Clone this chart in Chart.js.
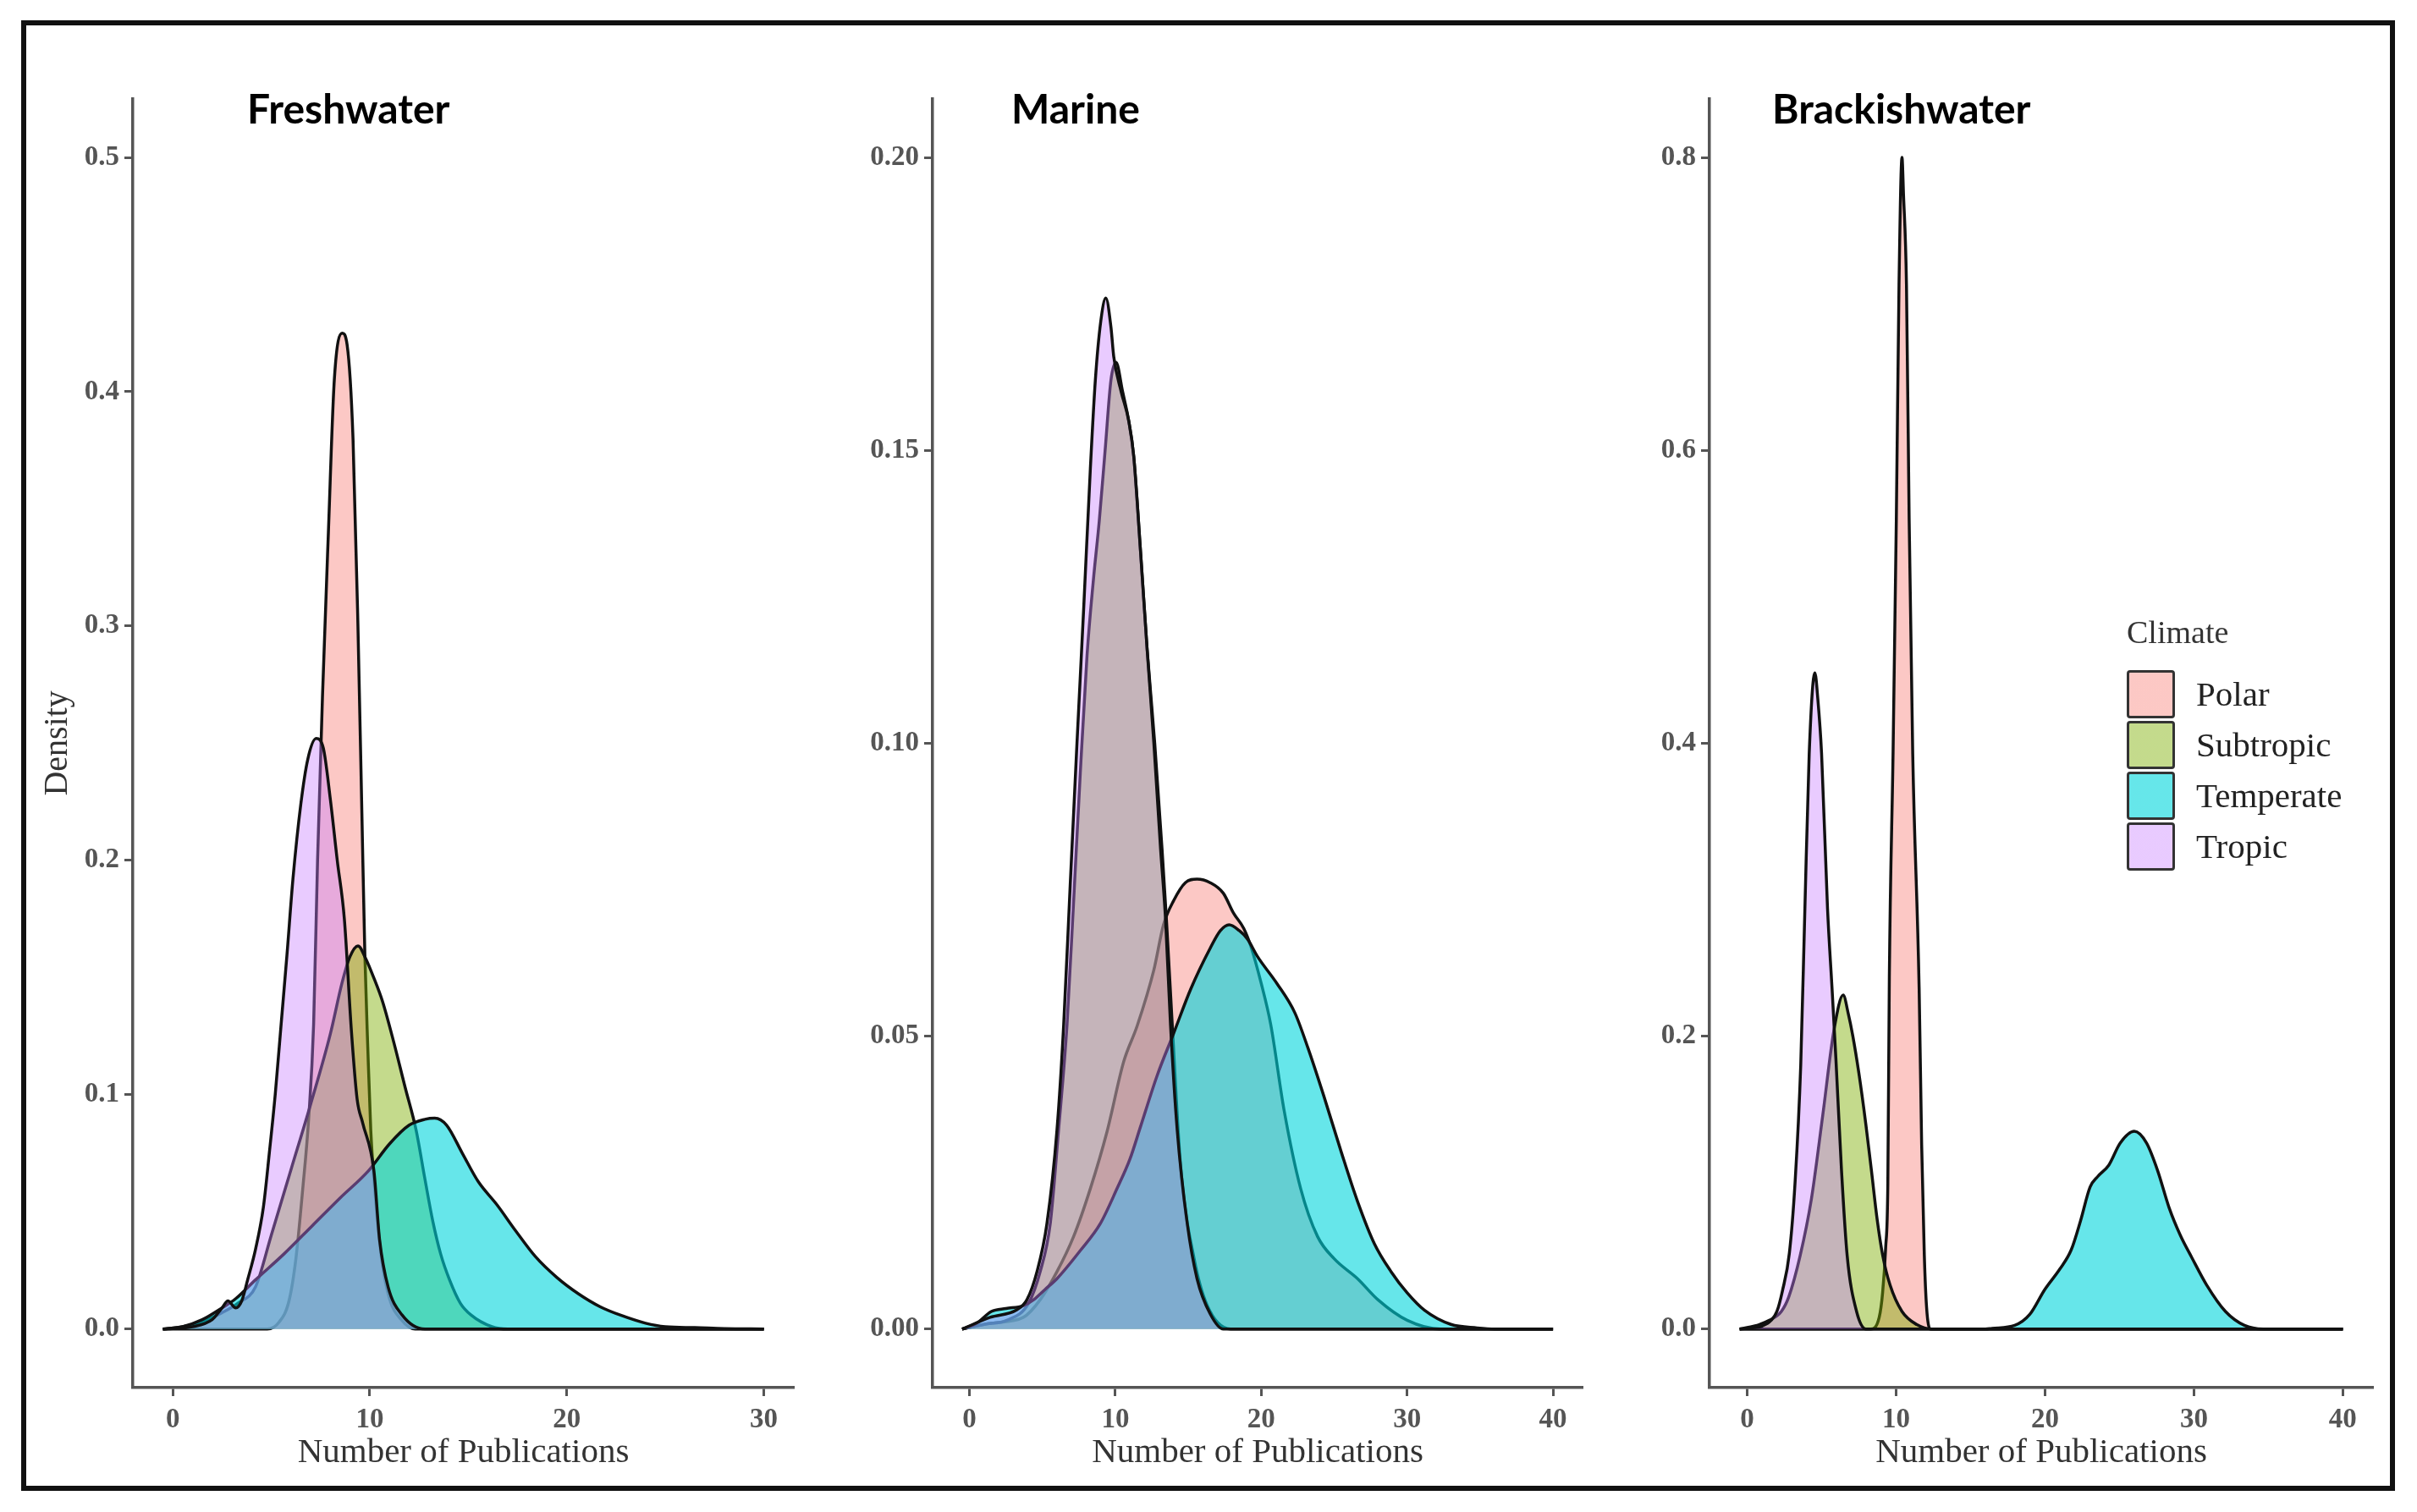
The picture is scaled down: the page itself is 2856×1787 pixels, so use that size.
<!DOCTYPE html>
<html>
<head>
<meta charset="utf-8">
<title>Density of publications by climate</title>
<script src="https://cdn.jsdelivr.net/npm/chart.js@4.4.1/dist/chart.umd.min.js"></script>
<style>
  html, body { margin: 0; padding: 0; background: #fff; }
  body { width: 2856px; height: 1787px; position: relative; overflow: hidden; }
  .frame { position: absolute; left: 25px; top: 24px; width: 2805px; height: 1738px;
           box-sizing: border-box; border: 6px solid #111; }
  canvas { position: absolute; }
  .panel-title { position: absolute; font-family: Lato, "Open Sans", sans-serif; font-weight: bold;
                 font-size: 48px; line-height: 48px; color: #000; white-space: nowrap; }
  .legend { position: absolute; left: 2513px; top: 728px; font-family: "Liberation Serif", serif; color: #222; }
  .legend .head { font-size: 38px; line-height: 38px; color: #333; margin-bottom: 24px; }
  .legend .row { display: flex; align-items: center; height: 60px; }
  .legend .key { width: 57px; height: 57px; box-sizing: border-box; border: 3px solid #333; border-radius: 4px; }
  .legend .lbl { font-size: 41px; margin-left: 25px; }
</style>
</head>
<body>
<div class="frame"></div>

<canvas id="chart-fresh" width="908" height="1654" style="left:40px;top:91px;width:908px;height:1654px"></canvas>
<canvas id="chart-marine" width="920" height="1654" style="left:960px;top:91px;width:920px;height:1654px"></canvas>
<canvas id="chart-brackish" width="914" height="1654" style="left:1900px;top:91px;width:914px;height:1654px"></canvas>

<div class="panel-title" style="left:292px;top:104px">Freshwater</div>
<div class="panel-title" style="left:1195px;top:104px">Marine</div>
<div class="panel-title" style="left:2094px;top:104px">Brackishwater</div>

<div class="legend" id="legend"></div>

<script>
// categories
var climates = ['Polar', 'Subtropic', 'Temperate', 'Tropic'];
var panels = ['Freshwater', 'Marine', 'Brackishwater'];
var fillColors = ['rgba(248,118,109,0.4)', 'rgba(124,174,0,0.45)', 'rgba(0,214,220,0.6)', 'rgba(199,124,255,0.4)'];

// tick labels
var freshwaterYTicks = [0, 0.1, 0.2, 0.3, 0.4, 0.5];
var marineYTicks = [0, 0.05, 0.10, 0.15, 0.20];
var brackishYTicks = [0, 0.2, 0.4, 0.6, 0.8];
var xTicks30 = [0, 10, 20, 30];
var xTicks40 = [0, 10, 20, 30, 40];

// density curves, [number of publications, density]
var freshwaterPolar = [[-0.5,0],[4.8,0],[5.4,0.003],[5.9,0.012],[6.25,0.03],[6.6,0.06],[6.9,0.09],[7.15,0.13],[7.35,0.2],[7.6,0.27],[7.9,0.34],[8.2,0.405],[8.6,0.425],[8.85,0.42],[9.15,0.38],[9.4,0.3],[9.6,0.22],[9.75,0.16],[9.9,0.12],[10.05,0.085],[10.3,0.055],[10.6,0.03],[11.0,0.013],[11.6,0.004],[12.3,0],[30,0]];
var freshwaterSubtropic = [[-0.5,0],[0.5,0.001],[1.5,0.003],[2.5,0.007],[3.3,0.011],[4.2,0.018],[5.0,0.04],[6.0,0.068],[7.0,0.096],[8.0,0.126],[8.6,0.148],[9.0,0.159],[9.4,0.1635],[9.8,0.158],[10.2,0.15],[10.64,0.14],[11.2,0.123],[11.8,0.103],[12.35,0.085],[12.8,0.064],[13.2,0.046],[13.6,0.032],[14.05,0.021],[14.6,0.011],[15.14,0.006],[16.2,0.001],[17,0],[30,0]];
var freshwaterTemperate = [[-0.5,0],[0.5,0.001],[1.5,0.004],[2.5,0.009],[3.2,0.013],[4.2,0.021],[5.64,0.032],[7.07,0.044],[8.5,0.056],[9.93,0.0675],[11.0,0.079],[12.0,0.087],[12.8,0.0895],[13.3,0.09],[13.9,0.087],[14.7,0.075],[15.5,0.063],[16.46,0.053],[17.4,0.042],[18.4,0.031],[19.5,0.022],[20.6,0.015],[21.7,0.0095],[22.8,0.0057],[24.0,0.0025],[25.0,0.001],[26.5,0.0006],[28,0.0002],[30,0]];
var freshwaterTropic = [[-0.5,0],[1.0,0.001],[2.0,0.004],[2.5,0.009],[2.8,0.012],[3.2,0.009],[3.5,0.012],[3.8,0.021],[4.2,0.034],[4.6,0.052],[4.9,0.075],[5.2,0.1],[5.5,0.13],[5.8,0.16],[6.1,0.192],[6.5,0.224],[6.85,0.243],[7.28,0.252],[7.64,0.248],[8.0,0.226],[8.35,0.2],[8.71,0.175],[9.07,0.127],[9.36,0.098],[9.64,0.088],[10.21,0.0675],[10.5,0.038],[10.93,0.018],[11.64,0.006],[12.8,0],[30,0]];

var marinePolar = [[-0.5,0],[1.5,0.001],[3.7,0.002],[4.85,0.005],[6.0,0.0098],[7.14,0.0158],[8.29,0.024],[9.43,0.0337],[10.58,0.0457],[11.49,0.0517],[12.64,0.0613],[13.3,0.069],[14.01,0.0732],[14.8,0.0762],[15.6,0.0768],[16.5,0.0762],[17.4,0.0744],[18.1,0.071],[18.8,0.0684],[19.28,0.0654],[20.0,0.059],[20.65,0.052],[21.57,0.0373],[22.7,0.024],[23.86,0.0158],[25.0,0.012],[26.6,0.0086],[28,0.005],[30,0.0015],[32.3,0],[40,0]];
var marineSubtropic = [[-0.5,0],[1.0,0.0008],[2.57,0.0015],[4.05,0.0044],[4.85,0.0098],[5.54,0.018],[6.11,0.034],[6.69,0.052],[7.14,0.073],[7.6,0.095],[8.06,0.115],[8.5,0.128],[8.9,0.138],[9.3,0.15],[9.7,0.162],[10.05,0.165],[10.5,0.16],[10.92,0.155],[11.26,0.149],[11.72,0.133],[12.18,0.116],[12.7,0.1],[13.2,0.082],[13.5,0.07],[13.9,0.052],[14.47,0.028],[15.4,0.012],[16.3,0.004],[17.9,0],[40,0]];
var marineTemperate = [[-0.5,0],[0.5,0.001],[1.5,0.003],[2.5,0.0035],[3.7,0.004],[4.4,0.005],[5.2,0.0068],[6.0,0.0086],[7.6,0.0134],[8.97,0.018],[10.12,0.024],[11.0,0.029],[11.72,0.0345],[12.87,0.0433],[14.0,0.0505],[15.16,0.058],[16.5,0.065],[17.2,0.068],[17.8,0.069],[18.5,0.068],[19.05,0.0666],[19.74,0.0636],[21.1,0.0589],[22.3,0.054],[23.2,0.048],[24.3,0.0397],[25.5,0.0301],[26.6,0.0218],[27.75,0.0146],[28.9,0.0098],[30.0,0.0062],[31.2,0.0032],[33.0,0.0008],[34.8,0.0002],[36,0],[40,0]];
var marineTropic = [[-0.5,0],[1.42,0.002],[3.25,0.0033],[3.94,0.005],[4.63,0.0098],[5.31,0.018],[6.0,0.034],[6.46,0.052],[6.91,0.076],[7.37,0.1],[7.83,0.123],[8.29,0.147],[8.63,0.162],[9.0,0.172],[9.35,0.176],[9.7,0.171],[9.89,0.166],[10.4,0.16],[10.92,0.155],[11.26,0.149],[11.72,0.133],[12.18,0.116],[12.64,0.1],[13.1,0.082],[13.44,0.07],[13.78,0.052],[14.24,0.034],[14.93,0.018],[15.6,0.0086],[16.5,0.0026],[17.4,0],[40,0]];

var brackishPolar = [[-0.5,0],[8.3,0],[8.87,0.008],[9.1,0.025],[9.3,0.055],[9.45,0.1],[9.55,0.24],[9.8,0.393],[10.02,0.553],[10.2,0.713],[10.4,0.8],[10.5,0.775],[10.7,0.713],[10.88,0.553],[11.12,0.393],[11.55,0.233],[11.72,0.126],[11.9,0.05],[12.05,0.015],[12.3,0],[40,0]];
var brackishSubtropic = [[-0.5,0],[0,0.001],[0.8,0.003],[1.5,0.006],[2.3,0.012],[2.8,0.022],[3.56,0.05],[4.32,0.089],[5.08,0.146],[5.83,0.204],[6.45,0.228],[6.8,0.215],[7.1,0.2],[7.5,0.175],[7.97,0.14],[8.35,0.108],[8.73,0.075],[9.11,0.05],[9.6,0.03],[10.4,0.012],[11.4,0.003],[12.4,0],[40,0]];
var brackishTemperate = [[-0.5,0],[16.0,0],[16.45,0.0005],[17.97,0.0025],[18.98,0.01],[19.99,0.027],[21.0,0.041],[21.76,0.054],[22.39,0.074],[23.03,0.097],[23.53,0.104],[24.29,0.112],[25.05,0.127],[26.0,0.135],[26.82,0.127],[27.57,0.108],[28.33,0.083],[29.09,0.064],[29.85,0.049],[30.86,0.03],[32.12,0.012],[33.39,0.0025],[34.65,0],[40,0]];
var brackishTropic = [[-0.5,0],[0.5,0.001],[1.0,0.002],[1.62,0.006],[2.0,0.012],[2.37,0.026],[2.84,0.052],[3.22,0.1],[3.6,0.18],[3.88,0.287],[4.17,0.393],[4.55,0.448],[4.75,0.43],[5.0,0.393],[5.4,0.287],[5.7,0.233],[5.96,0.185],[6.34,0.108],[6.72,0.05],[7.35,0.012],[7.98,0],[40,0]];

document.addEventListener('DOMContentLoaded', function() {
    var tickFont = { family: 'Liberation Serif', size: 33, weight: 'bold' };
    var titleFont = { family: 'Liberation Serif', size: 41 };

    // ggplot adds 5% on each side of the data range
    function expand(lo, hi) {
        var pad = (hi - lo) * 0.05;
        return [lo - pad, hi + pad];
    }

    function makeDatasets(series) {
        return series.map(function(pts, i) {
            return {
                label: climates[i],
                data: pts.map(function(p) { return { x: p[0], y: p[1] }; }),
                backgroundColor: fillColors[i],
                borderColor: '#111',
                borderWidth: 3.5,
                fill: 'origin',
                pointRadius: 0,
                cubicInterpolationMode: 'monotone',
                order: 3 - i   // Tropic drawn last, on top
            };
        });
    }

    function drawPanel(id, series, xRange, xTicks, yRange, yTicks, decimals, yWidth, showYTitle) {
        var xr = expand(xRange[0], xRange[1]);
        var yr = expand(yRange[0], yRange[1]);
        var ctx = document.getElementById(id).getContext('2d');
        return new Chart(ctx, {
            type: 'line',
            data: { datasets: makeDatasets(series) },
            options: {
                responsive: false,
                animation: false,
                devicePixelRatio: 1,
                layout: { padding: { top: 15, right: 10, left: 0, bottom: 0 } },
                plugins: { legend: { display: false }, tooltip: { enabled: false } },
                scales: {
                    x: {
                        type: 'linear',
                        min: xr[0],
                        max: xr[1],
                        afterBuildTicks: function(scale) {
                            scale.ticks = xTicks.map(function(v) { return { value: v }; });
                        },
                        afterFit: function(scale) { scale.height = 105; },
                        ticks: {
                            font: tickFont,
                            color: '#555',
                            padding: 9,
                            maxRotation: 0,
                            callback: function(value) { return String(value); }
                        },
                        grid: { display: true, drawOnChartArea: false, drawTicks: true, tickLength: 10, tickWidth: 3, tickColor: '#555' },
                        border: { display: true, color: '#555', width: 3.5 },
                        title: { display: true, text: 'Number of Publications', font: titleFont, color: '#333', padding: { top: 0, bottom: 3 } }
                    },
                    y: {
                        type: 'linear',
                        min: yr[0],
                        max: yr[1],
                        afterBuildTicks: function(scale) {
                            scale.ticks = yTicks.map(function(v) { return { value: v }; });
                        },
                        afterFit: function(scale) { scale.width = yWidth; },
                        ticks: {
                            font: tickFont,
                            color: '#555',
                            padding: 6,
                            callback: function(value) { return Number(value).toFixed(decimals); }
                        },
                        grid: { display: true, drawOnChartArea: false, drawTicks: true, tickLength: 10, tickWidth: 3, tickColor: '#555' },
                        border: { display: true, color: '#555', width: 3.5 },
                        title: { display: showYTitle, text: 'Density', font: { family: 'Liberation Serif', size: 40 }, color: '#333', padding: { top: 4, bottom: 0 } }
                    }
                }
            }
        });
    }

    drawPanel('chart-fresh',
        [freshwaterPolar, freshwaterSubtropic, freshwaterTemperate, freshwaterTropic],
        [-0.5, 30], xTicks30, [0, 0.5], freshwaterYTicks, 1, 117, true);
    drawPanel('chart-marine',
        [marinePolar, marineSubtropic, marineTemperate, marineTropic],
        [-0.5, 40], xTicks40, [0, 0.2], marineYTicks, 2, 142, false);
    drawPanel('chart-brackish',
        [brackishPolar, brackishSubtropic, brackishTemperate, brackishTropic],
        [-0.5, 40], xTicks40, [0, 0.8], brackishYTicks, 1, 120, false);

    // legend, drawn as page text
    var legend = document.getElementById('legend');
    var head = document.createElement('div');
    head.className = 'head';
    head.textContent = 'Climate';
    legend.appendChild(head);
    climates.forEach(function(name, i) {
        var row = document.createElement('div');
        row.className = 'row';
        var key = document.createElement('div');
        key.className = 'key';
        key.style.background = 'linear-gradient(' + fillColors[i] + ',' + fillColors[i] + '), #fff';
        var lbl = document.createElement('span');
        lbl.className = 'lbl';
        lbl.textContent = name;
        row.appendChild(key);
        row.appendChild(lbl);
        legend.appendChild(row);
    });
});
</script>
</body>
</html>
